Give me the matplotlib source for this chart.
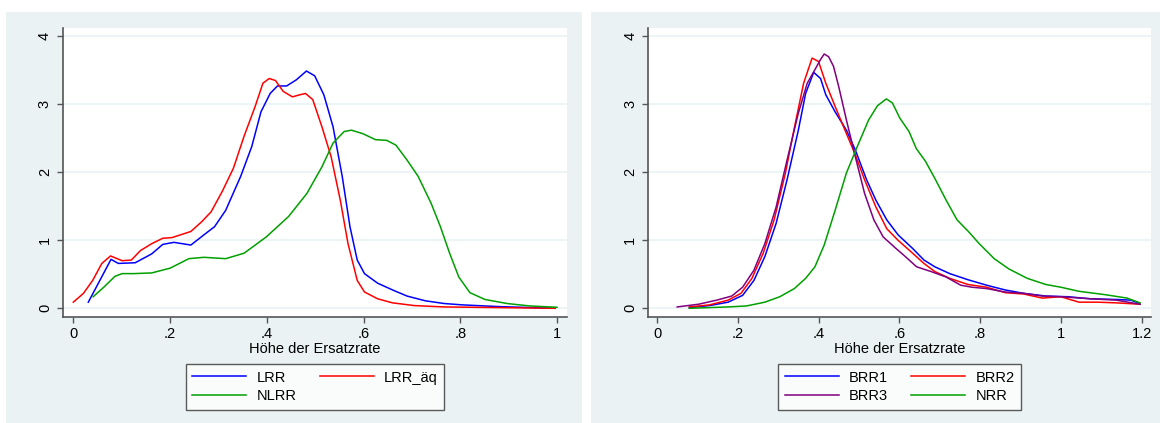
import matplotlib
matplotlib.use("Agg")
import matplotlib.pyplot as plt
from matplotlib.patches import Rectangle

plt.rcParams['font.family'] = ['Liberation Sans', 'DejaVu Sans']

# linkes Bild: LRR, LRR_äq, NLRR
lrr_x = [0.031, 0.078, 0.093, 0.128, 0.162, 0.185, 0.208, 0.243, 0.27, 0.292, 0.315, 0.346,
         0.369, 0.388, 0.407, 0.422, 0.441, 0.461, 0.482, 0.499, 0.518, 0.537, 0.556, 0.572,
         0.587, 0.602, 0.629, 0.66, 0.69, 0.728, 0.767, 0.805, 0.88, 0.996]
lrr_y = [0.09, 0.72, 0.66, 0.67, 0.80, 0.94, 0.97, 0.93, 1.08, 1.20, 1.44, 1.94,
         2.38, 2.89, 3.16, 3.27, 3.27, 3.36, 3.49, 3.42, 3.14, 2.67, 1.94, 1.20,
         0.71, 0.51, 0.37, 0.27, 0.18, 0.11, 0.07, 0.05, 0.025, 0.0]

lrraq_x = [0.0, 0.021, 0.04, 0.059, 0.077, 0.101, 0.12, 0.139, 0.162, 0.185, 0.204, 0.243,
           0.265, 0.285, 0.308, 0.331, 0.353, 0.376, 0.392, 0.405, 0.418, 0.434, 0.453, 0.468,
           0.48, 0.495, 0.514, 0.533, 0.552, 0.568, 0.587, 0.602, 0.629, 0.66, 0.705, 0.767, 0.996]
lrraq_y = [0.09, 0.22, 0.41, 0.66, 0.77, 0.70, 0.71, 0.85, 0.95, 1.03, 1.04, 1.13,
           1.27, 1.42, 1.72, 2.06, 2.53, 2.97, 3.31, 3.38, 3.35, 3.19, 3.11, 3.14,
           3.16, 3.07, 2.67, 2.23, 1.59, 0.95, 0.41, 0.24, 0.14, 0.08, 0.04, 0.02, 0.0]

nlrr_x = [0.041, 0.063, 0.086, 0.101, 0.124, 0.162, 0.2, 0.239, 0.27, 0.315, 0.353, 0.399,
          0.445, 0.483, 0.514, 0.537, 0.56, 0.575, 0.598, 0.625, 0.648, 0.667, 0.69, 0.713,
          0.74, 0.759, 0.778, 0.797, 0.82, 0.851, 0.897, 0.943, 1.0]
nlrr_y = [0.17, 0.31, 0.47, 0.51, 0.51, 0.52, 0.59, 0.73, 0.75, 0.73, 0.81, 1.05,
          1.35, 1.69, 2.08, 2.43, 2.60, 2.62, 2.57, 2.48, 2.47, 2.40, 2.18, 1.94,
          1.54, 1.20, 0.81, 0.46, 0.23, 0.13, 0.07, 0.035, 0.015]

# rechtes Bild: BRR1, BRR2, BRR3, NRR
brr1_x = [0.08, 0.13, 0.176, 0.212, 0.24, 0.267, 0.295, 0.322, 0.35, 0.368, 0.388, 0.405,
          0.418, 0.441, 0.469, 0.491, 0.519, 0.542, 0.569, 0.597, 0.633, 0.661, 0.688, 0.725,
          0.77, 0.816, 0.862, 0.908, 0.963, 1.018, 1.073, 1.137, 1.173, 1.196]
brr1_y = [0.01, 0.04, 0.09, 0.19, 0.41, 0.76, 1.25, 1.89, 2.62, 3.16, 3.47, 3.38,
          3.14, 2.89, 2.62, 2.33, 1.89, 1.59, 1.30, 1.08, 0.88, 0.71, 0.61, 0.51,
          0.42, 0.34, 0.27, 0.22, 0.18, 0.17, 0.14, 0.13, 0.12, 0.07]

brr2_x = [0.08, 0.13, 0.176, 0.208, 0.235, 0.263, 0.29, 0.318, 0.34, 0.363, 0.384, 0.4,
          0.418, 0.441, 0.469, 0.491, 0.514, 0.542, 0.569, 0.597, 0.633, 0.661, 0.688, 0.725,
          0.77, 0.816, 0.862, 0.908, 0.954, 1.0, 1.045, 1.091, 1.137, 1.196]
brr2_y = [0.02, 0.05, 0.12, 0.22, 0.44, 0.81, 1.30, 1.99, 2.65, 3.31, 3.68, 3.63,
          3.31, 2.97, 2.57, 2.26, 1.89, 1.49, 1.17, 1.00, 0.81, 0.66, 0.54, 0.44,
          0.35, 0.31, 0.23, 0.21, 0.15, 0.17, 0.09, 0.09, 0.08, 0.06]

brr3_x = [0.05, 0.103, 0.148, 0.185, 0.212, 0.24, 0.267, 0.295, 0.322, 0.35, 0.372, 0.391,
          0.405, 0.414, 0.425, 0.437, 0.45, 0.469, 0.491, 0.514, 0.537, 0.56, 0.588, 0.615,
          0.643, 0.679, 0.716, 0.752, 0.78, 0.816, 0.862, 0.908, 0.954, 1.0, 1.073, 1.137, 1.196]
brr3_y = [0.02, 0.06, 0.12, 0.18, 0.31, 0.56, 0.95, 1.49, 2.18, 2.87, 3.31, 3.51,
          3.66, 3.74, 3.70, 3.56, 3.26, 2.77, 2.23, 1.69, 1.30, 1.05, 0.90, 0.76,
          0.61, 0.54, 0.46, 0.34, 0.31, 0.29, 0.24, 0.22, 0.18, 0.17, 0.14, 0.12, 0.06]

nrr_x = [0.08, 0.176, 0.222, 0.267, 0.304, 0.34, 0.368, 0.391, 0.414, 0.441, 0.469, 0.496,
         0.524, 0.546, 0.568, 0.583, 0.601, 0.624, 0.642, 0.665, 0.688, 0.716, 0.743, 0.771,
         0.798, 0.835, 0.871, 0.917, 0.963, 1.0, 1.045, 1.11, 1.164, 1.196]
nrr_y = [0.0, 0.02, 0.035, 0.09, 0.17, 0.29, 0.44, 0.61, 0.93, 1.44, 1.99, 2.38,
         2.77, 2.98, 3.08, 3.02, 2.80, 2.60, 2.35, 2.16, 1.91, 1.59, 1.30, 1.13,
         0.95, 0.73, 0.58, 0.44, 0.35, 0.31, 0.25, 0.20, 0.15, 0.08]

left_ticks = [0, 0.2, 0.4, 0.6, 0.8, 1.0]
left_labels = ['0', '.2', '.4', '.6', '.8', '1']
right_ticks = [0, 0.2, 0.4, 0.6, 0.8, 1.0, 1.2]
right_labels = ['0', '.2', '.4', '.6', '.8', '1', '1.2']
y_ticks = [0, 1, 2, 3, 4]

BG = '#eaf2f3'
W, H = 1160, 423

fig = plt.figure(figsize=(11.6, 4.23), dpi=100)

# Hintergrundflaechen der beiden Grafiken
for x0, x1 in [(6, 582), (591, 1160)]:
    fig.patches.append(Rectangle((x0 / W, 0), (x1 - x0) / W, 1 - 12 / H,
                                 transform=fig.transFigure, facecolor=BG,
                                 edgecolor='none', zorder=-10))


def make_axes(left_px, right_px, xlim, ticks, labels):
    ax = fig.add_axes([left_px / W, 1 - 317 / H, (right_px - left_px) / W, (317 - 27.5) / H])
    ax.set_facecolor('white')
    ax.set_xlim(*xlim)
    ax.set_ylim(-0.128, 4.13)
    ax.spines['top'].set_visible(False)
    ax.spines['right'].set_visible(False)
    for s in ['left', 'bottom']:
        ax.spines[s].set_color('#555555')
        ax.spines[s].set_linewidth(1.2)
    ax.set_xticks(ticks)
    ax.set_xticklabels(labels)
    ax.set_yticks(y_ticks)
    ax.tick_params(axis='both', direction='out', length=4, width=1, color='#555555',
                   labelsize=10.5, pad=3)
    ax.tick_params(axis='y', labelrotation=90, pad=4)
    for t in ax.get_yticklabels():
        t.set_va('center')
    ax.grid(axis='y', color=BG, linewidth=1.2)
    ax.set_axisbelow(True)
    ax.set_xlabel('Höhe der Ersatzrate', fontsize=10.5, labelpad=1)
    return ax


ax1 = make_axes(63, 567, (-0.0213, 1.0207), left_ticks, left_labels)
l_lrr, = ax1.plot(lrr_x, lrr_y, color='#0000ff', lw=1.1, label='LRR')
l_aq, = ax1.plot(lrraq_x, lrraq_y, color='#ff0000', lw=1.1, label='LRR_äq')
l_nlrr, = ax1.plot(nlrr_x, nlrr_y, color='#00a000', lw=1.1, label='NLRR')

ax2 = make_axes(648.4, 1150.5, (-0.0213, 1.222), right_ticks, right_labels)
l_b1, = ax2.plot(brr1_x, brr1_y, color='#0000ff', lw=1.1, label='BRR1')
l_b2, = ax2.plot(brr2_x, brr2_y, color='#ff0000', lw=1.1, label='BRR2')
l_b3, = ax2.plot(brr3_x, brr3_y, color='#800080', lw=1.1, label='BRR3')
l_nrr, = ax2.plot(nrr_x, nrr_y, color='#00a000', lw=1.1, label='NRR')

# Legenden zeilenweise wie in Stata (matplotlib fuellt spaltenweise)
for ax, handles, cx in [(ax1, [l_lrr, l_nlrr, l_aq], (187 + 443) / 2),
                        (ax2, [l_b1, l_b3, l_b2, l_nrr], (780 + 1019) / 2)]:
    leg = ax.legend(handles=handles, loc='upper center', bbox_to_anchor=(cx / W, 1 - 364 / H),
                    bbox_transform=fig.transFigure, ncol=2, frameon=True,
                    fancybox=False, edgecolor='#333333', fontsize=10.5,
                    handlelength=3.7, columnspacing=1.6, borderpad=0.45,
                    labelspacing=0.3, handletextpad=0.7, borderaxespad=0)
    leg.get_frame().set_linewidth(1.0)

fig.savefig('out.png', dpi=100)
